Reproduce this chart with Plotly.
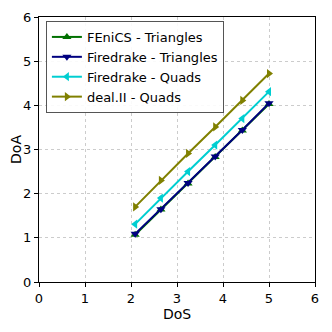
import plotly.graph_objects as go

dos = [2.09, 2.65, 3.24, 3.83, 4.42, 5.0]
fenics_tri = [1.07, 1.64, 2.23, 2.83, 3.43, 4.03]
firedrake_tri = [1.09, 1.65, 2.24, 2.84, 3.44, 4.05]
firedrake_quad = [1.31, 1.90, 2.50, 3.10, 3.70, 4.31]
dealii_quad = [1.70, 2.30, 2.91, 3.51, 4.11, 4.72]

series = [
    ("FEniCS - Triangles", fenics_tri, "#007000", "triangle-up"),
    ("Firedrake - Triangles", firedrake_tri, "#000080", "triangle-down"),
    ("Firedrake - Quads", firedrake_quad, "#00CED1", "triangle-left"),
    ("deal.II - Quads", dealii_quad, "#808000", "triangle-right"),
]

fig = go.Figure()
for name, ys, color, sym in series:
    fig.add_trace(go.Scatter(
        x=dos, y=ys, name=name, mode="lines+markers",
        line=dict(color=color, width=2),
        marker=dict(symbol=sym, size=8, color=color),
    ))

axis_common = dict(
    range=[0, 6], dtick=1, showline=True, linecolor="black", linewidth=1,
    mirror=True, ticks="outside", ticklen=4, tickcolor="black",
    showgrid=True, gridcolor="#cccccc", griddash="dot", gridwidth=1,
    zeroline=False, tickfont=dict(size=13, color="black"), automargin=False,
)

fig.update_layout(
    width=332, height=332,
    margin=dict(l=31, r=25, t=9, b=58),
    paper_bgcolor="white", plot_bgcolor="white",
    font=dict(family="DejaVu Sans", color="black"),
    xaxis=dict(title=dict(text="DoS", font=dict(size=14), standoff=2), **axis_common),
    yaxis=dict(title=dict(text="DoA", font=dict(size=14), standoff=2), **axis_common),
    legend=dict(x=0.025, y=0.985, xanchor="left", yanchor="top",
                bgcolor="rgba(255,255,255,0.9)", bordercolor="#555555", borderwidth=1,
                font=dict(size=13), tracegroupgap=0, itemwidth=30),
    showlegend=True,
)

fig.write_html("out.html")
